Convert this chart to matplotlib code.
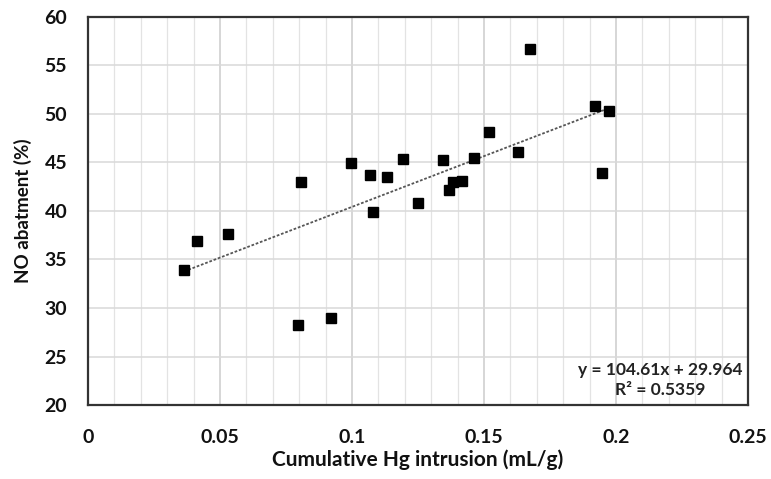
import matplotlib.pyplot as plt
import numpy as np
from matplotlib.ticker import MultipleLocator

plt.rcParams['font.family'] = ['Lato', 'DejaVu Sans']

# Data
hg_intrusion = [0.0364, 0.0413, 0.0531, 0.0806, 0.0795, 0.0920, 0.0996, 0.1068,
                0.1081, 0.1131, 0.1194, 0.1251, 0.1346, 0.1367, 0.1384, 0.1415,
                0.1461, 0.1520, 0.1630, 0.1675, 0.1922, 0.1972, 0.1947]
no_abatement = [33.9, 36.9, 37.6, 43.0, 28.2, 29.0, 44.9, 43.7,
                39.9, 43.5, 45.4, 40.8, 45.3, 42.2, 43.0, 43.1,
                45.5, 48.1, 46.1, 56.7, 50.8, 50.3, 43.9]

# Linear trend reported on the chart
slope = 104.61
intercept = 29.964
r_squared = 0.5359

fig = plt.figure(figsize=(7.71, 4.79), dpi=100)
ax = fig.add_axes([88 / 771, 74 / 479, 660 / 771, 388 / 479])

ax.set_xlim(0, 0.25)
ax.set_ylim(20, 60)
ax.xaxis.set_major_locator(MultipleLocator(0.05))
ax.xaxis.set_minor_locator(MultipleLocator(0.01))
ax.yaxis.set_major_locator(MultipleLocator(5))

# grid: major + minor vertical lines, only major horizontal ones
ax.grid(which='major', axis='x', color='#d0d0d0', linewidth=1.2)
ax.grid(which='minor', axis='x', color='#e3e3e3', linewidth=0.9)
ax.grid(which='major', axis='y', color='#d9d9d9', linewidth=1.1)
ax.set_axisbelow(True)

# trendline between smallest and largest x
x_fit = np.array([min(hg_intrusion), max(hg_intrusion)])
ax.plot(x_fit, slope * x_fit + intercept, color='#555555', linewidth=1.3,
        linestyle=(0, (1.5, 1)), zorder=2)

ax.plot(hg_intrusion, no_abatement, linestyle='none', marker='s', markersize=6.8,
        color='black', zorder=3)

ax.text(0.2167, 20.7, f'y = {slope}x + {intercept}\nR² = {r_squared}',
        ha='center', va='bottom', fontsize=12.5, fontweight='bold',
        color='#222222', linespacing=1.3)

ax.tick_params(which='both', length=0, labelsize=14, labelcolor='#111111')
ax.tick_params(axis='y', pad=15)
ax.tick_params(axis='x', pad=17)
for lab in ax.get_xticklabels() + ax.get_yticklabels():
    lab.set_fontweight('bold')
ax.xaxis.set_major_formatter(plt.FuncFormatter(lambda v, p: f'{v:g}'))

for s in ax.spines.values():
    s.set_color('#333333')
    s.set_linewidth(1.6)

ax.set_xlabel('Cumulative Hg intrusion (mL/g)', fontsize=15, fontweight='bold',
              labelpad=3, color='#111111')
ax.set_ylabel('NO abatment (%)', fontsize=13.5, fontweight='bold', labelpad=9,
              color='#111111')

fig.savefig('out.png', dpi=100)
